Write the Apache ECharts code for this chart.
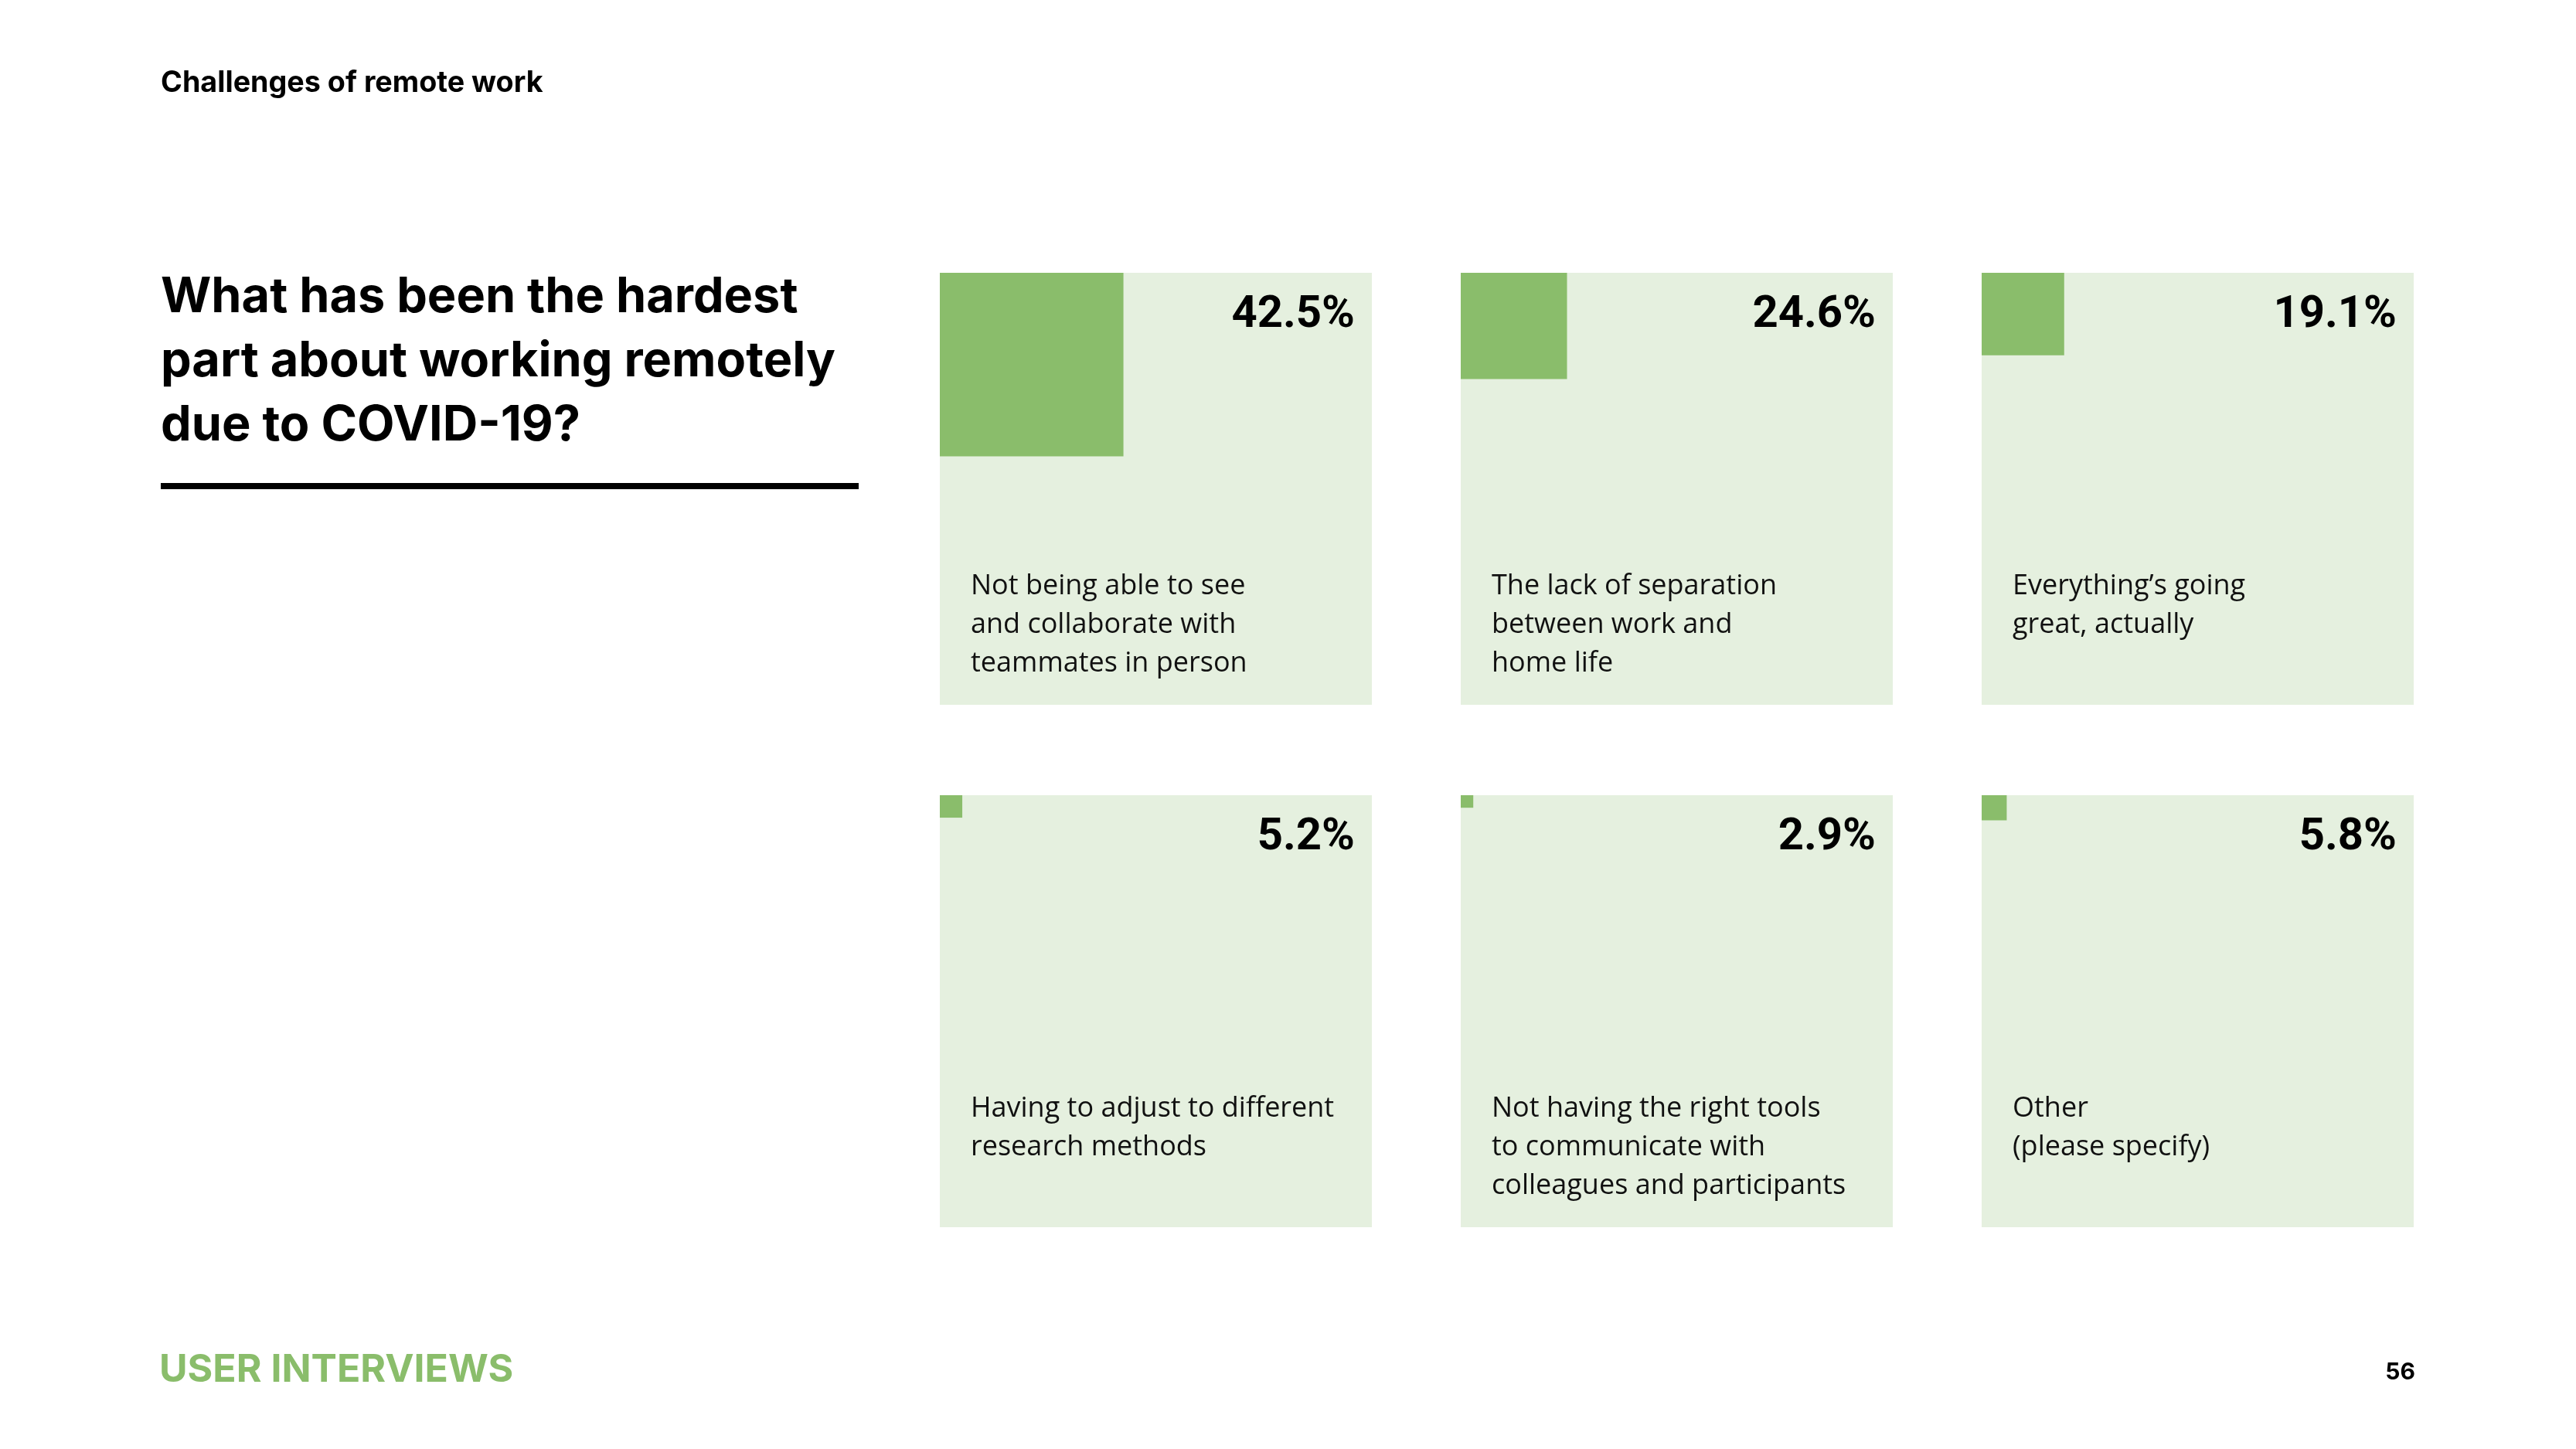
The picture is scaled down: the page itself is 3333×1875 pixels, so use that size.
<!DOCTYPE html>
<html>
<head>
<meta charset="utf-8">
<script src="https://cdn.jsdelivr.net/npm/echarts@6/dist/echarts.min.js"></script>
<style>
html,body{margin:0;padding:0;background:#fff;}
#chart{width:3333px;height:1875px;}
</style>
</head>
<body>
<div id="chart"></div>
<script>
// ---- data ----
const categories = [
  'Not being able to see\nand collaborate with\nteammates in person',
  'The lack of separation\nbetween work and\nhome life',
  'Everything\u2019s going\ngreat, actually',
  'Having to adjust to different\nresearch methods',
  'Not having the right tools\nto communicate with\ncolleagues and participants',
  'Other\n(please specify)'
];
const values = [42.5, 24.6, 19.1, 5.2, 2.9, 5.8];
const pageTitle = 'Challenges of remote work';
const question = 'What has been the hardest\npart about working remotely\ndue to COVID-19?';
const footer = 'USER INTERVIEWS';
const pageNumber = '56';

// ---- layout ----
const GREEN = '#8abd6b';
const LIGHT = '#e5f0df';
const panelLefts = [1216, 1890, 2564];
const panelTops = [353, 1029];
const panelSize = 559;
const boldFont = 'Inter';
const numFont = 'Roboto';
const labelFont = 'Open Sans';

const chart = echarts.init(document.getElementById('chart'));

const grids = [], xAxes = [], yAxes = [], series = [];
values.forEach((v, i) => {
  const col = i % 3, row = Math.floor(i / 3);
  grids.push({
    left: panelLefts[col], top: panelTops[row],
    width: panelSize, height: panelSize,
    show: true, backgroundColor: LIGHT, borderWidth: 0
  });
  xAxes.push({type: 'value', gridIndex: i, min: 0, max: 100, show: false});
  yAxes.push({type: 'value', gridIndex: i, min: 0, max: 100, inverse: true, show: false});
  series.push({
    type: 'custom',
    xAxisIndex: i, yAxisIndex: i,
    data: [[v]],
    silent: true,
    renderItem: function (params, api) {
      const val = api.value(0);
      const p0 = api.coord([0, 0]);
      const p1 = api.coord([val, val]);
      const pEnd = api.coord([100, 100]);
      return {
        type: 'group',
        children: [
          {type: 'rect', shape: {x: p0[0], y: p0[1], width: p1[0] - p0[0], height: p1[1] - p0[1]},
           style: {fill: GREEN}},
          {type: 'text', style: {
            text: val.toFixed(1) + '%', x: pEnd[0] - 22, y: p0[1] + 55,
            align: 'right', verticalAlign: 'middle',
            fontFamily: numFont, fontWeight: 'bold', fontSize: 58, fill: '#000'}},
          {type: 'text', style: {
            text: categories[i], x: p0[0] + 40, y: p0[1] + 381,
            align: 'left', verticalAlign: 'top', lineHeight: 50,
            fontFamily: labelFont, fontSize: 36, fill: '#111'}}
        ]
      };
    }
  });
});

chart.setOption({
  animation: false,
  backgroundColor: '#ffffff',
  grid: grids,
  xAxis: xAxes,
  yAxis: yAxes,
  series: series,
  graphic: [
    {type: 'text', left: 208, top: 89, style: {
      text: pageTitle, fontFamily: boldFont, fontWeight: 'bold', fontSize: 37.7, fill: '#000'}},
    {type: 'text', left: 208, top: 344, style: {
      text: question, fontFamily: boldFont, fontWeight: 'bold', fontSize: 63, lineHeight: 83, fill: '#000'}},
    {type: 'rect', left: 208, top: 625, shape: {width: 903, height: 8}, style: {fill: '#000'}},
    {type: 'text', left: 206, top: 1748, style: {
      text: footer, fontFamily: boldFont, fontWeight: 'bold', fontSize: 50, fill: GREEN}},
    {type: 'text', right: 208, top: 1761, style: {
      text: pageNumber, fontFamily: boldFont, fontWeight: 'bold', fontSize: 30, fill: '#000'}}
  ]
});
</script>
</body>
</html>
